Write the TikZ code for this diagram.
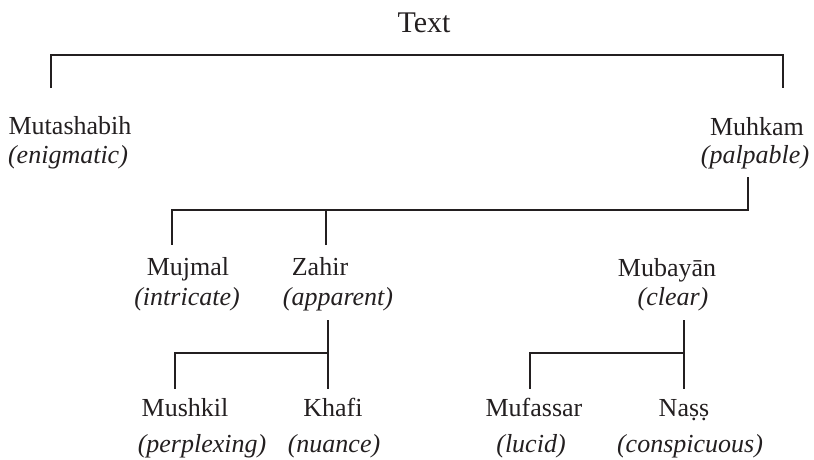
\documentclass[tikz,border=0pt]{standalone}
\usepackage{fontspec}
\setmainfont{Liberation Serif}
\definecolor{ink}{HTML}{231F20}
\begin{document}
\begin{tikzpicture}[x=1pt,y=-1pt,
  conn/.style={draw=ink,line width=2.9pt},
  term/.style={anchor=base,inner sep=0pt,text=ink,font=\fontsize{26}{30}\selectfont},
  gloss/.style={anchor=base,inner sep=0pt,text=ink,font=\fontsize{26}{30}\selectfont\itshape},
  title/.style={anchor=base,inner sep=0pt,text=ink,font=\fontsize{30}{34}\selectfont}]
\useasboundingbox (0,0) rectangle (814,459);
% texts
\node[title] (txt) at (424,32) {Text};
\node[term]  (mut) at (70,134) {Mutashabih};
\node[gloss] (mutg) at (68,163) {(enigmatic)};
\node[term]  (muh) at (757,135) {Muhkam};
\node[gloss] (muhg) at (755,163) {(palpable)};
\node[term]  (muj) at (188,275) {Mujmal};
\node[gloss] (mujg) at (187,305) {(intricate)};
\node[term]  (zah) at (320,275) {Zahir};
\node[gloss] (zahg) at (338,305) {(apparent)};
\node[term]  (mub) at (667,276) {Mubayān};
\node[gloss] (mubg) at (673,305) {(clear)};
\node[term]  (mus) at (185,416) {Mushkil};
\node[gloss] (musg) at (202,452) {(perplexing)};
\node[term]  (kha) at (333,416) {Khafi};
\node[gloss] (khag) at (334,452) {(nuance)};
\node[term]  (muf) at (534,416) {Mufassar};
\node[gloss] (mufg) at (531,452) {(lucid)};
\node[term]  (nas) at (684,416) {Naṣṣ};
\node[gloss] (nasg) at (690,452) {(conspicuous)};
% connector points
\coordinate (tbTop) at (424,55);
\coordinate (tbL) at (51,88);
\coordinate (tbR) at (783,88);
\coordinate (mhB) at (748,177);
\coordinate (j2) at (748,210);
\coordinate (mjT) at (172,245);
\coordinate (zhT) at (326,245);
\coordinate (zhB) at (328,320);
\coordinate (j3) at (328,353);
\coordinate (khT) at (328,389);
\coordinate (msT) at (175,389);
\coordinate (mbB) at (684,320);
\coordinate (j4) at (684,353);
\coordinate (nsT) at (684,389);
\coordinate (mfT) at (530,389);
% connectors
\draw[conn] (tbL) |- (tbTop) -| (tbR);
\draw[conn] (mhB) -- (j2) -| (mjT);
\draw[conn] (zhT) -- (zhT |- j2);
\draw[conn] (zhB) -- (khT);
\draw[conn] (j3) -| (msT);
\draw[conn] (mbB) -- (nsT);
\draw[conn] (j4) -| (mfT);
\end{tikzpicture}
\end{document}
